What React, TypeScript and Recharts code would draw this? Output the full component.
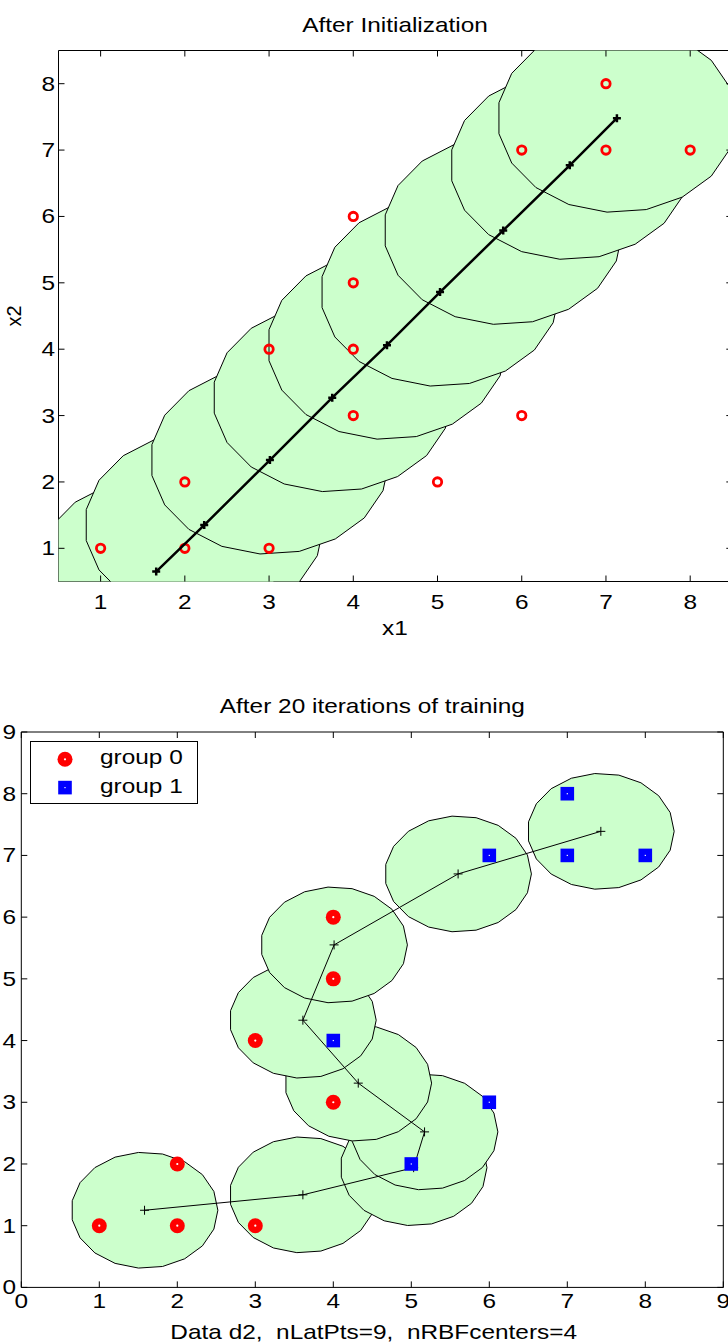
import React from 'react';
import { ScatterChart, Scatter, XAxis, YAxis, ReferenceLine, Legend } from 'recharts';

// RBF centres right after initialization
const initCenterX = [1.66, 2.23, 3.01, 3.75, 4.4, 5.03, 5.78, 6.57, 7.13];
const initCenterY = [0.65, 1.35, 2.33, 3.27, 4.06, 4.86, 5.79, 6.77, 7.48];
const initRadius = 1.42;

// RBF centres after 20 training iterations
const trainedCenterX = [1.58, 3.61, 5.03, 5.17, 4.32, 3.61, 4.01, 5.6, 7.43];
const trainedCenterY = [1.25, 1.5, 1.94, 2.52, 3.31, 4.33, 5.55, 6.7, 7.39];
const trainedRadius = 0.94;

// data set d2
const group0X = [1, 2, 3, 2, 3, 4, 4, 4];
const group0Y = [1, 1, 1, 2, 4, 3, 5, 6];
const group1X = [5, 4, 6, 6, 7, 7, 8];
const group1Y = [2, 4, 3, 7, 7, 8, 7];

const topTicks = [1, 2, 3, 4, 5, 6, 7, 8];
const bottomTicks = [0, 1, 2, 3, 4, 5, 6, 7, 8, 9];
const groupNames = ['group 0', 'group 1'];

const FONT = '"Liberation Sans", Arial, Helvetica, sans-serif';
const STRETCH = 1.22;
const GREEN = '#ccffcc';
const POLY_SIDES = 19;

const zip = (xs: number[], ys: number[]) => xs.map((x, i) => ({ x, y: ys[i] }));

// receptive field drawn as a coarse polygon, like the original plot
function outline(cx: number, cy: number, r: number) {
  return Array.from({ length: POLY_SIDES }, (_, k) => {
    const t = (2 * Math.PI * k) / POLY_SIDES;
    return { x: cx + r * Math.cos(t), y: cy + r * Math.sin(t) };
  });
}

function NoDot() {
  return <g />;
}

const plus = (half: number, width: number) => (p: any) => (
  <path
    d={`M${p.cx - half},${p.cy}H${p.cx + half}M${p.cx},${p.cy - half}V${p.cy + half}`}
    stroke="#000"
    strokeWidth={width}
    fill="none"
  />
);

function RingDot(p: any) {
  return <circle cx={p.cx} cy={p.cy} r={4.2} fill="none" stroke="#ff0000" strokeWidth={2.8} />;
}

function RedDot(p: any) {
  return (
    <g>
      <circle cx={p.cx} cy={p.cy} r={7.5} fill="#ff0000" />
      <circle cx={p.cx} cy={p.cy} r={1.1} fill="#fff" />
    </g>
  );
}

function BlueSquare(p: any) {
  return (
    <g>
      <rect x={p.cx - 6.8} y={p.cy - 6.8} width={13.6} height={13.6} fill="#0000ff" />
      <rect x={p.cx - 0.6} y={p.cy - 0.6} width={1.2} height={1.2} fill="#fff" />
    </g>
  );
}

interface Box { width: number; height: number; left: number; top: number; right: number; bottom: number }

// matlab style: ticks point inwards on all four sides, labels on bottom/left
const xTick = (box: Box, labelDy: number) => (p: any) => (
  <g>
    <line x1={p.x} x2={p.x} y1={p.y} y2={p.y - 6} stroke="#000" />
    <line x1={p.x} x2={p.x} y1={box.top} y2={box.top + 6} stroke="#000" />
    <text
      transform={`translate(${p.x} ${p.y + labelDy}) scale(${STRETCH} 1)`}
      textAnchor="middle"
      fontSize={20}
      fontFamily={FONT}
      fill="#000"
    >
      {p.payload.value}
    </text>
  </g>
);

const yTick = (box: Box, labelDx: number) => (p: any) => (
  <g>
    <line x1={p.x} x2={p.x + 6} y1={p.y} y2={p.y} stroke="#000" />
    <line x1={box.right} x2={box.right - 6} y1={p.y} y2={p.y} stroke="#000" />
    <text
      transform={`translate(${p.x - labelDx} ${p.y + 7}) scale(${STRETCH} 1)`}
      textAnchor="end"
      fontSize={20}
      fontFamily={FONT}
      fill="#000"
    >
      {p.payload.value}
    </text>
  </g>
);

const TOP: Box = { width: 740, height: 650, left: 58.5, top: 50.5, right: 732.3, bottom: 581.5 };
const BOT: Box = { width: 740, height: 694, left: 21.3, top: 82, right: 723.3, bottom: 637.4 };

function InitChart() {
  const margin = { top: TOP.top, left: TOP.left - 40, right: TOP.width - TOP.right, bottom: TOP.height - TOP.bottom - 40 };
  return (
    <ScatterChart width={TOP.width} height={TOP.height} margin={margin}>
      <XAxis
        type="number" dataKey="x" domain={[0.5, 8.5]} ticks={topTicks} interval={0}
        allowDataOverflow height={40} tickSize={0} tickMargin={0} tickLine={false}
        axisLine={{ stroke: '#000' }} tick={xTick(TOP, 27.5)}
      />
      <YAxis
        type="number" dataKey="y" domain={[0.5, 8.5]} ticks={topTicks} interval={0}
        allowDataOverflow width={40} tickSize={0} tickMargin={0} tickLine={false}
        axisLine={{ stroke: '#000' }} tick={yTick(TOP, 3.5)}
      />
      {initCenterX.map((cx, i) => (
        <Scatter
          key={`f${i}`}
          data={outline(cx, initCenterY[i], initRadius)}
          shape={NoDot}
          line={{ stroke: '#000', strokeWidth: 1, fill: GREEN }}
          lineJointType="linearClosed"
          legendType="none"
          isAnimationActive={false}
        />
      ))}
      <Scatter data={zip([...group0X, ...group1X], [...group0Y, ...group1Y])} shape={RingDot} isAnimationActive={false} />
      <Scatter
        data={zip(initCenterX, initCenterY)}
        shape={plus(4, 2.5)}
        line={{ stroke: '#000', strokeWidth: 2.5 }}
        lineJointType="linear"
        isAnimationActive={false}
      />
      <ReferenceLine y={8.5} stroke="#000" />
      <ReferenceLine x={8.5} stroke="#000" />
    </ScatterChart>
  );
}

function LegendBox() {
  return (
    <svg width={169} height={64} style={{ display: 'block' }}>
      <rect x={0.5} y={0.5} width={167} height={62} fill="#fff" stroke="#000" />
      <RedDot cx={35} cy={18.3} />
      <BlueSquare cx={35} cy={46.6} />
      {groupNames.map((name, i) => (
        <text
          key={name}
          transform={`translate(70 ${23.3 + i * 28.3}) scale(${STRETCH} 1)`}
          fontSize={20}
          fontFamily={FONT}
          fill="#000"
        >
          {name}
        </text>
      ))}
    </svg>
  );
}

function TrainedChart() {
  const margin = { top: BOT.top, left: BOT.left - 20, right: BOT.width - BOT.right, bottom: BOT.height - BOT.bottom - 40 };
  return (
    <ScatterChart width={BOT.width} height={BOT.height} margin={margin}>
      <XAxis
        type="number" dataKey="x" domain={[0, 9]} ticks={bottomTicks} interval={0}
        allowDataOverflow height={40} tickSize={0} tickMargin={0} tickLine={false}
        axisLine={{ stroke: '#000' }} tick={xTick(BOT, 21)}
      />
      <YAxis
        type="number" dataKey="y" domain={[0, 9]} ticks={bottomTicks} interval={0}
        allowDataOverflow width={20} tickSize={0} tickMargin={0} tickLine={false}
        axisLine={{ stroke: '#000' }} tick={yTick(BOT, 5.3)}
      />
      {trainedCenterX.map((cx, i) => (
        <Scatter
          key={`f${i}`}
          data={outline(cx, trainedCenterY[i], trainedRadius)}
          shape={NoDot}
          line={{ stroke: '#000', strokeWidth: 1, fill: GREEN }}
          lineJointType="linearClosed"
          legendType="none"
          isAnimationActive={false}
        />
      ))}
      <Scatter
        data={zip(trainedCenterX, trainedCenterY)}
        shape={plus(4.5, 1)}
        line={{ stroke: '#000', strokeWidth: 1 }}
        lineJointType="linear"
        isAnimationActive={false}
      />
      <Scatter name={groupNames[0]} data={zip(group0X, group0Y)} shape={RedDot} isAnimationActive={false} />
      <Scatter name={groupNames[1]} data={zip(group1X, group1Y)} shape={BlueSquare} isAnimationActive={false} />
      <ReferenceLine y={9} stroke="#000" />
      <ReferenceLine x={9} stroke="#000" />
      <Legend
        layout="vertical"
        align="center"
        verticalAlign="middle"
        wrapperStyle={{ left: 30, top: 90.7, width: 169, height: 64 }}
        content={LegendBox}
      />
    </ScatterChart>
  );
}

function Caption({ x, y, text, rotate }: { x: number; y: number; text: string; rotate?: boolean }) {
  const t = rotate ? `translate(${x} ${y}) rotate(-90)` : `translate(${x} ${y}) scale(${STRETCH} 1)`;
  return (
    <text
      transform={t}
      textAnchor="middle"
      fontSize={20}
      fontFamily={FONT}
      fill="#000"
      style={{ whiteSpace: 'pre' }}
    >
      {text}
    </text>
  );
}

export default function App() {
  return (
    <div style={{ position: 'absolute', left: 0, top: 0, width: 728, height: 1344, overflow: 'hidden', background: '#fff' }}>
      <div style={{ position: 'absolute', left: 0, top: 0 }}>
        <InitChart />
      </div>
      <div style={{ position: 'absolute', left: 0, top: 650 }}>
        <TrainedChart />
      </div>
      <svg width={728} height={1344} style={{ position: 'absolute', left: 0, top: 0, pointerEvents: 'none' }}>
        <Caption x={395} y={32} text="After Initialization" />
        <Caption x={395} y={635} text="x1" />
        <Caption x={21} y={316} text="x2" rotate />
        <Caption x={372.3} y={713} text="After 20 iterations of training" />
        <Caption x={373.7} y={1339} text="Data d2,  nLatPts=9,  nRBFcenters=4" />
      </svg>
    </div>
  );
}
